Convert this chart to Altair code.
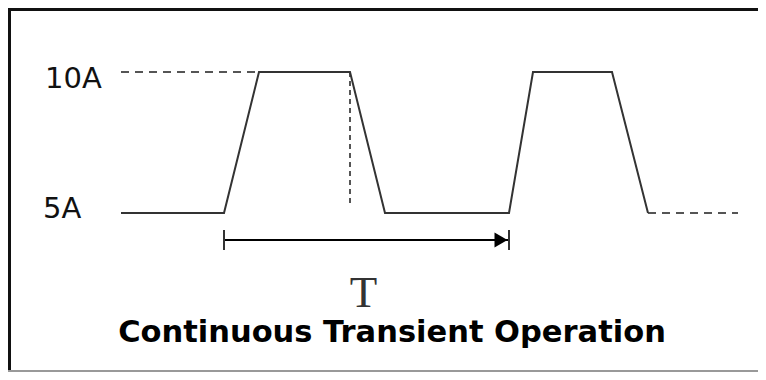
import altair as alt
import pandas as pd

# ---- data ----
wave_t = [11.3, 21.6, 25.1, 34.2, 37.7, 50.1, 52.5, 60.4, 64.0]
wave_amps = [5, 5, 10, 10, 5, 5, 10, 10, 5]

guide_t_start = [11.3, 64.0]
guide_t_end = [25.0, 73.0]
guide_amps = [10, 5]

fall_mark_t = [34.2]
fall_mark_top = [10]
fall_mark_bottom = [5.28]

period_start = [21.6]
period_end = [50.1]
period_amps = [4.04]
period_tick_t = [21.6, 50.1]
period_tick_low = [3.69, 3.69]
period_tick_high = [4.40, 4.40]
arrow_head_t = [49.3]

level_labels = ["10A", "5A"]
level_label_t = [3.7, 3.5]
level_label_amps = [9.43, 4.82]

period_label = ["T"]
period_label_t = [35.55]
period_label_amps = [1.65]

caption = ["Continuous Transient Operation"]
caption_t = [38.4]
caption_amps = [0.436]

W, H = 750, 364
xs = alt.Scale(domain=[0, 75], nice=False, zero=False)
ys = alt.Scale(domain=[-0.6383, 12.2695], nice=False, zero=False)


def X(f):
    return alt.X(f, type="quantitative", scale=xs, axis=None)


def Y(f):
    return alt.Y(f, type="quantitative", scale=ys, axis=None)


wave_df = pd.DataFrame({"t": wave_t, "amps": wave_amps})
guide_df = pd.DataFrame({"t0": guide_t_start, "t1": guide_t_end, "amps": guide_amps})
fall_df = pd.DataFrame({"t": fall_mark_t, "a0": fall_mark_top, "a1": fall_mark_bottom})
period_df = pd.DataFrame({"t0": period_start, "t1": period_end, "amps": period_amps})
tick_df = pd.DataFrame({"t": period_tick_t, "a0": period_tick_low, "a1": period_tick_high})
head_df = pd.DataFrame({"t": arrow_head_t, "amps": period_amps})
lab_df = pd.DataFrame({"t": level_label_t, "amps": level_label_amps, "txt": level_labels})
tlab_df = pd.DataFrame({"t": period_label_t, "amps": period_label_amps, "txt": period_label})
cap_df = pd.DataFrame({"t": caption_t, "amps": caption_amps, "txt": caption})
dummy = pd.DataFrame({"k": [0]})

wave = alt.Chart(wave_df).mark_line(color="#333333", strokeWidth=2).encode(
    x=X("t"), y=Y("amps"))

guides = alt.Chart(guide_df).mark_rule(color="#555555", strokeWidth=2, strokeDash=[8, 6]).encode(
    x=X("t0"), x2="t1", y=Y("amps"))

fall = alt.Chart(fall_df).mark_rule(color="#555555", strokeWidth=2, strokeDash=[5, 4]).encode(
    x=X("t"), y=Y("a0"), y2="a1")

period_line = alt.Chart(period_df).mark_rule(color="#000000", strokeWidth=2).encode(
    x=X("t0"), x2="t1", y=Y("amps"))

ticks = alt.Chart(tick_df).mark_rule(color="#333333", strokeWidth=2).encode(
    x=X("t"), y=Y("a0"), y2="a1")

head = alt.Chart(head_df).mark_point(shape="triangle-right", filled=True, size=225,
                                     color="#000000", opacity=1).encode(
    x=X("t"), y=Y("amps"))

labels = alt.Chart(lab_df).mark_text(font="DejaVu Sans", fontSize=29, align="left",
                                     baseline="alphabetic", color="#111111").encode(
    x=X("t"), y=Y("amps"), text="txt:N")

tlabel = alt.Chart(tlab_df).mark_text(font="Liberation Serif", fontSize=45, align="center",
                                      baseline="alphabetic", color="#333333").encode(
    x=X("t"), y=Y("amps"), text="txt:N")

cap = alt.Chart(cap_df).mark_text(font="DejaVu Sans", fontSize=30.5, fontWeight="bold",
                                  align="center", baseline="alphabetic", color="#000000").encode(
    x=X("t"), y=Y("amps"), text="txt:N")

left_border = alt.Chart(dummy).mark_rule(color="#111111", strokeWidth=3).encode(
    x=alt.value(1.5), y=alt.value(0), y2=alt.value(H))
top_border = alt.Chart(dummy).mark_rule(color="#111111", strokeWidth=3).encode(
    x=alt.value(0), x2=alt.value(W), y=alt.value(1.5))
bottom_border = alt.Chart(dummy).mark_rule(color="#999999", strokeWidth=2).encode(
    x=alt.value(0), x2=alt.value(W), y=alt.value(H - 1))

chart = alt.layer(
    guides, fall, wave, period_line, ticks, head, labels, tlabel, cap,
    left_border, top_border, bottom_border
).properties(
    width=W, height=H, padding=0, autosize=alt.AutoSizeParams(type="none")
).configure_view(stroke=None).configure(background="white")

chart.save("out.html", embed_options={"renderer": "svg", "actions": False})
